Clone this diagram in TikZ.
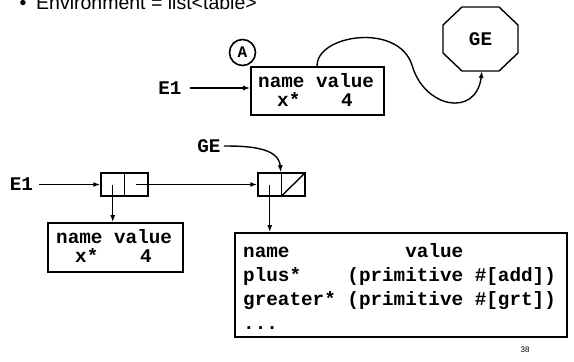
\documentclass[tikz,border=0pt]{standalone}
\usepackage{fontspec}
\setmainfont{Liberation Sans}
\newfontfamily\cour{Liberation Mono}
\usetikzlibrary{arrows.meta,calc}
\begin{document}
\begin{tikzpicture}[x=1pt,y=-1pt,
  mono/.style={font=\cour\bfseries\fontsize{19.3}{22}\selectfont, inner sep=0pt, anchor=base west},
  lbl/.style={font=\cour\bfseries\fontsize{19.3}{22}\selectfont, inner sep=0pt},
  tbl/.style={draw, line width=1.8pt, inner sep=0pt},
  cellbox/.style={draw, line width=1.4pt, minimum width=23.5pt, minimum height=23pt, inner sep=0pt},
  arr/.style={line width=1.4pt, -{Latex[length=7pt,width=5pt]}},
]
\useasboundingbox (0,0) rectangle (574,362);

% title
\node[anchor=base west, inner sep=0pt, font=\fontsize{19.5}{22}\selectfont] (bul) at (19.5,9) {•};
\node[anchor=base west, inner sep=0pt, font=\fontsize{19.5}{22}\selectfont] (title) at (36,9) {Environment = list<table>};

% top part
\node[circle, draw, line width=1.6pt, minimum size=26pt, inner sep=0pt, font=\cour\bfseries\fontsize{16}{18}\selectfont] (A) at (242.5,52.5) {A};
\node[tbl, minimum width=133pt, minimum height=48pt] (T1) at (317.5,91) {};
\node[mono] (T1h) at (258,87) {name value};
\node[mono] (T1n) at (277,106.5) {x*};
\node[mono] (T1v) at (341,106.5) {4};

\node[lbl] (E1a) at (170,88) {E1};
\draw[arr, shorten <=8pt] (E1a.east) -- (E1a.east -| T1.west);

\node[lbl] (GEo) at (480.5,39) {GE};
\draw[line width=1.4pt] (462,7) -- (499,7) -- (518,25) -- (518,53) -- (499,71) -- (462,71) -- (443,53) -- (443,25) -- cycle;
\coordinate (Tc) at ($(T1.north west)+(67,0)$);
\coordinate (Ge) at (482,71);
\draw[arr] (Tc) .. controls (316,35) and (398,22) .. (412,65) .. controls (424,108) and (476,118) .. (Ge);

% bottom part
\node[lbl] (GEb) at (209,146) {GE};
\node[lbl] (E1b) at (21.5,184.5) {E1};
\node[cellbox] (c1a) at (112.75,184.5) {};
\node[cellbox] (c1b) at (136.25,184.5) {};
\node[cellbox] (c2a) at (269.75,184.5) {};
\node[cellbox] (c2b) at (293.25,184.5) {};
\draw[line width=1.4pt] (c2b.south west) -- (c2b.north east);
\draw[arr, shorten <=6pt] (E1b.east) -- (c1a.west);
\draw[arr] (c1b.center) -- (c2a.west);
\draw[arr, shorten <=3pt] (GEb.east) to[out=0, in=95] (c2b.north west);

\node[tbl, minimum width=135pt, minimum height=49pt] (T2) at (115.5,247.5) {};
\draw[arr] (c1a.center) -- (c1a.center |- T2.north);
\node[mono] (T2h) at (56,243) {name value};
\node[mono] (T2n) at (75,262) {x*};
\node[mono] (T2v) at (140,262) {4};

\node[tbl, minimum width=332pt, minimum height=104pt] (T3) at (401,285) {};
\draw[arr] (c2a.center) -- (c2a.center |- T3.north);
\node[mono] (r0) at (243,257) {name~~~~~~~~~~value};
\node[mono] (r1) at (243,281) {plus*~~~~(primitive~\#[add])};
\node[mono] (r2) at (243,305) {greater*~(primitive~\#[grt])};
\node[mono] (r3) at (243,329) {...};

\node[inner sep=0pt, font=\fontsize{8}{9}\selectfont] (pg) at (525,350) {38};
\end{tikzpicture}
\end{document}
